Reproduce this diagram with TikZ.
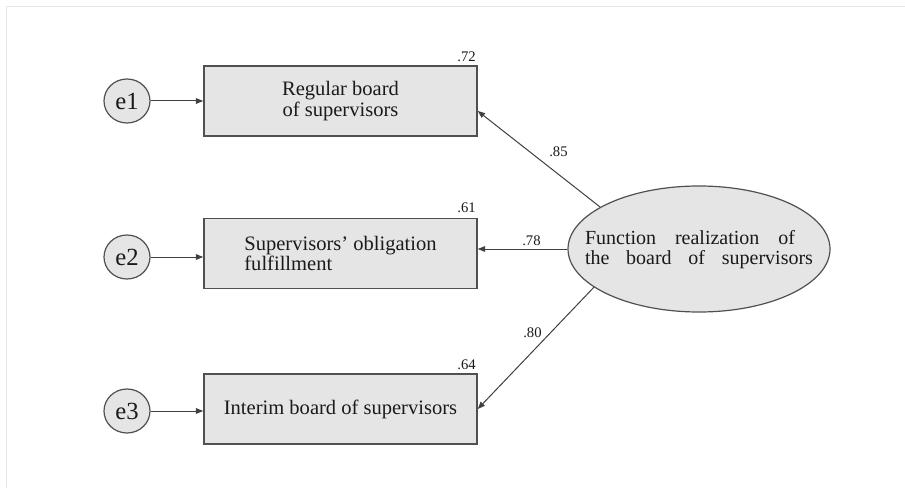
\documentclass[tikz,border=0pt]{standalone}
\usepackage{fontspec}
\setmainfont{Liberation Serif}
\usetikzlibrary{arrows.meta,shapes.geometric}
\definecolor{boxfill}{HTML}{E5E5E5}
\definecolor{boxline}{HTML}{505050}
\definecolor{pathline}{HTML}{404040}
\definecolor{inktext}{HTML}{1A1A1A}
\definecolor{framegray}{HTML}{E6E6E6}
\begin{document}
\begin{tikzpicture}[x=0.75pt,y=-0.75pt,
  indicator/.style={draw=boxline,fill=boxfill,line width=1.1pt,
    minimum width=204.75pt,minimum height=52.5pt,inner sep=0pt,
    text=inktext,font=\fontsize{15.4}{11.2}\selectfont},
  errterm/.style={ellipse,draw=boxline,fill=boxfill,line width=0.9pt,
    minimum width=34.5pt,minimum height=33pt,inner sep=0pt,
    text=inktext,font=\fontsize{18.5}{18.5}\selectfont},
  latent/.style={ellipse,draw=boxline,fill=boxfill,line width=0.9pt,
    minimum width=196.5pt,minimum height=94.5pt,inner sep=0pt},
  latenttext/.style={text=inktext,align=left,inner sep=0pt,
    font=\fontsize{15}{14.5}\selectfont},
  coef/.style={text=inktext,inner sep=0pt,font=\fontsize{11}{11}\selectfont},
  path/.style={draw=pathline,line width=0.75pt,
    -{Triangle[length=5.5pt,width=4.2pt]}}]
\useasboundingbox (0,0) rectangle (905,488);
\fill[white] (0,0) rectangle (905,488);
\draw[framegray,line width=0.9pt] (6.5,488) -- (6.5,6.5) -- (905,6.5);

% observed indicators
\node[indicator,align=center] (b1) at (340.5,101)
  {Regular board\\of supervisors};
\node[indicator,align=left] (b2) at (340.5,253.5)
  {Supervisors’ obligation\\fulfillment};
\node[indicator] (b3) at (340.5,409) {\raisebox{-3pt}{Interim board of supervisors}};

% error terms
\node[errterm] (e1) at (127,101) {e1};
\node[errterm] (e2) at (127,257) {e2};
\node[errterm] (e3) at (127,411) {e3};

% latent factor and its label
\node[latent] (F) at (699,249) {};
\node[latenttext] (Ft) at (699,249.5)
  {\makebox[157.5pt][s]{Function realization of}\\
   \makebox[171pt][s]{the board of supervisors}};

% error paths
\draw[path] (e1) -- (e1 -| b1.west);
\draw[path] (e2) -- (e2 -| b2.west);
\draw[path] (e3) -- (e3 -| b3.west);

% loadings
\draw[path] (F.157) -- ([yshift=-7.5pt]b1.east);
\draw[path] (F.west) -- (F.west -| b2.east);
\draw[path] (F.200) -- (b3.east);

% coefficient labels
\node[coef,anchor=base east] (r1) at (476,62) {.72};
\node[coef,anchor=base east] (r2) at (476,213) {.61};
\node[coef,anchor=base east] (r3) at (476,369) {.64};
\node[coef,anchor=base west] (l1) at (549,157) {.85};
\node[coef,anchor=base west] (l2) at (522,245) {.78};
\node[coef,anchor=base west] (l3) at (523,337) {.80};
\end{tikzpicture}
\end{document}
